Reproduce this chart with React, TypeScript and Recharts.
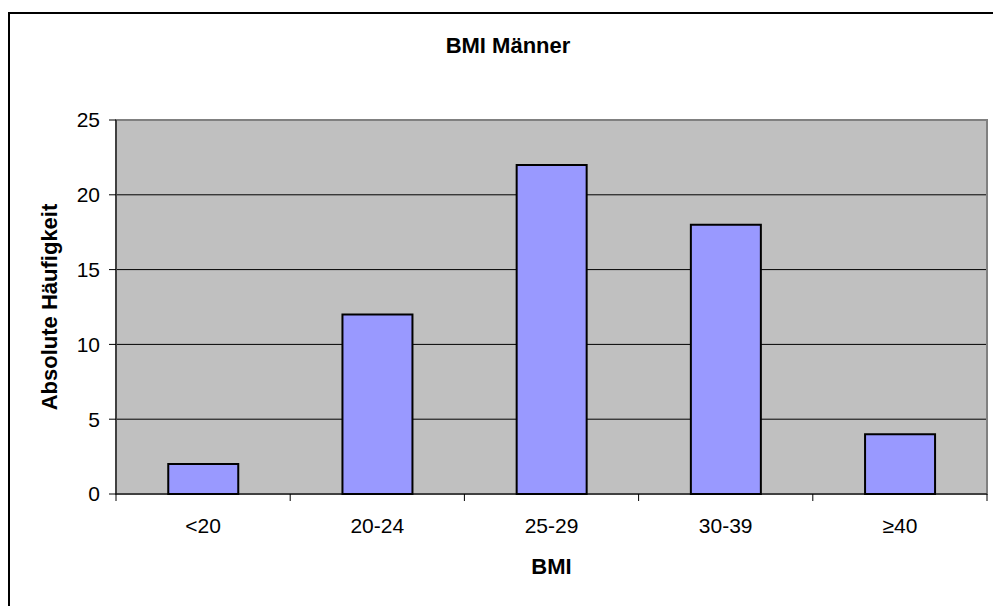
import { BarChart, Bar, XAxis, YAxis, CartesianGrid, ReferenceArea } from "recharts";

const categories = ["<20", "20-24", "25-29", "30-39", "≥40"];
const counts = [2, 12, 22, 18, 4];
const yTicks = [0, 5, 10, 15, 20, 25];

const data = categories.map((bmi, i) => ({ bmi, count: counts[i] }));

const font = "'Liberation Sans', Arial, sans-serif";

// Excel-style category ticks sit on the band boundaries, not the centres
function CategoryTick(props: any) {
  const { x, payload, index } = props;
  const half = payload.offset ?? 87;
  const top = 494;
  return (
    <g>
      <line x1={x - half} y1={top} x2={x - half} y2={top + 7} stroke="#000" />
      {index === categories.length - 1 && (
        <line x1={x + half} y1={top} x2={x + half} y2={top + 7} stroke="#000" />
      )}
      <text x={x} y={top + 39} textAnchor="middle" fontSize={21} fill="#000" fontFamily={font}>
        {payload.value}
      </text>
    </g>
  );
}

export default function App() {
  return (
    <div style={{ position: "absolute", left: 0, top: 0, width: 993, height: 606, background: "#fff", fontFamily: font }}>
      {/* chart frame, right and bottom edges fall outside the window */}
      <div style={{ position: "absolute", left: 8, top: 12, width: 1000, height: 600, borderLeft: "2px solid #000", borderTop: "2px solid #000" }} />
      <div style={{ position: "absolute", left: 358, width: 300, top: 35, lineHeight: "22px", textAlign: "center", fontWeight: "bold", fontSize: 22 }}>
        BMI Männer
      </div>
      <BarChart
        width={993}
        height={606}
        data={data}
        margin={{ top: 120, right: 6, bottom: 0, left: 0 }}
        barCategoryGap="30%"
        style={{ position: "absolute", left: 0, top: 0 }}
      >
        <CartesianGrid vertical={false} stroke="#000" fill="#C0C0C0" fillOpacity={1} />
        <ReferenceArea y1={0} y2={25} fill="none" stroke="#808080" strokeWidth={2} ifOverflow="visible" />
        <XAxis
          dataKey="bmi"
          height={112}
          axisLine={{ stroke: "#000" }}
          tickLine={false}
          interval={0}
          tick={<CategoryTick />}
          label={{ value: "BMI", position: "center", dy: 16, fontWeight: "bold", fontSize: 22, fill: "#000", fontFamily: font }}
        />
        <YAxis
          width={116}
          domain={[0, 25]}
          ticks={yTicks}
          interval={0}
          axisLine={{ stroke: "#000" }}
          tickLine={{ stroke: "#000" }}
          tickSize={7}
          tickMargin={9}
          tick={{ fontSize: 21, fill: "#000", fontFamily: font }}
          label={{ value: "Absolute Häufigkeit", angle: -90, position: "center", dx: -9, fontWeight: "bold", fontSize: 22, fill: "#000", fontFamily: font }}
        />
        <Bar dataKey="count" fill="#9999FF" stroke="#000" strokeWidth={2} isAnimationActive={false} />
      </BarChart>
    </div>
  );
}
